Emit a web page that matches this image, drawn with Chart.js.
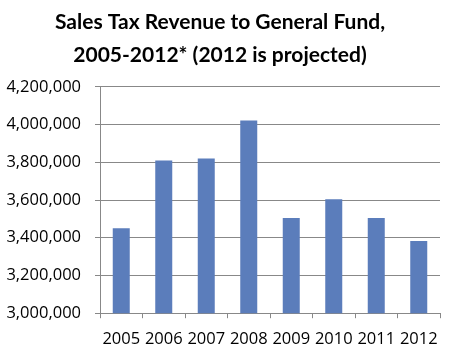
<!DOCTYPE html>
<html>
<head>
<meta charset="utf-8">
<script src="https://cdn.jsdelivr.net/npm/chart.js@4/dist/chart.umd.min.js"></script>
<style>
html,body{margin:0;padding:0;background:#fff;}
#wrap{width:450px;height:360px;position:relative;}
</style>
</head>
<body>
<div id="wrap"><canvas id="c" width="450" height="360"></canvas></div>
<script>
const categories = ["2005","2006","2007","2008","2009","2010","2011","2012"];
const revenue = [3450000, 3810000, 3820000, 4022000, 3505000, 3605000, 3505000, 3383000];
const titleLines = ["Sales Tax Revenue to General Fund,", "2005-2012* (2012 is projected)"];
const yMin = 3000000, yMax = 4200000, yStep = 200000;

new Chart(document.getElementById('c'), {
  type: 'bar',
  data: {
    labels: categories,
    datasets: [{
      data: revenue,
      backgroundColor: '#5b7dbb',
      borderWidth: 0,
      barPercentage: 0.4,
      categoryPercentage: 1.0
    }]
  },
  options: {
    responsive: false,
    animation: false,
    devicePixelRatio: 1,
    layout: { padding: { left: 0, right: 10, top: 6, bottom: 0 } },
    plugins: {
      legend: { display: false },
      tooltip: { enabled: false },
      title: {
        display: true,
        text: titleLines,
        color: '#000',
        font: { family: 'Lato', size: 21, weight: 'bold', lineHeight: 1.57 },
        padding: { top: 0, bottom: 15 }
      }
    },
    scales: {
      x: {
        grid: { display: true, drawOnChartArea: false, drawTicks: true, tickLength: 5, color: '#888', offset: true },
        border: { display: true, color: '#888', width: 1 },
        ticks: { color: '#000', font: { family: 'Open Sans', size: 16.5 }, padding: 11, maxRotation: 0, autoSkip: false }
      },
      y: {
        min: yMin, max: yMax,
        afterFit: (s) => { s.width = 100; },
        grid: { color: '#888', lineWidth: 1, drawTicks: true, tickLength: 5 },
        border: { display: true, color: '#888', width: 1 },
        ticks: {
          stepSize: yStep,
          color: '#000',
          font: { family: 'Open Sans', size: 16.5 },
          padding: 14,
          callback: (v) => v.toLocaleString('en-US')
        }
      }
    }
  }
});
</script>
</body>
</html>
